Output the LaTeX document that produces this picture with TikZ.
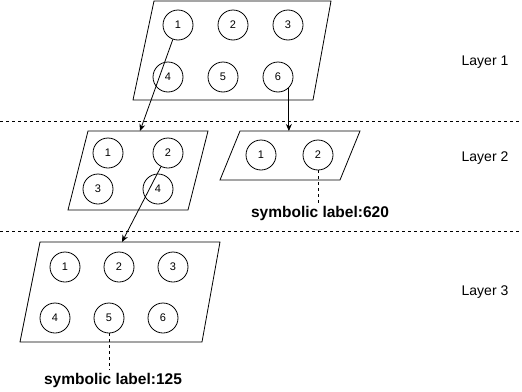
\documentclass[tikz,border=0pt]{standalone}
\usepackage{fontspec}
\setmainfont{Liberation Sans}
\usetikzlibrary{arrows.meta,positioning}

\begin{document}
\begin{tikzpicture}[x=1pt,y=-1pt,line width=0.8pt,>={Stealth[length=7pt,width=6pt]},
        node distance=55pt,on grid,
        nd/.style={circle,draw,minimum size=30pt,inner sep=0pt,font=\fontsize{11}{11}\selectfont},
        lyr/.style={font=\fontsize{14}{14}\selectfont},
        sym/.style={font=\fontsize{15.5}{15.5}\selectfont\bfseries,inner sep=2pt},
        sep/.style={dash pattern=on 3pt off 3pt}]
        \useasboundingbox (0,0) rectangle (522,391);

        % layers
        \draw[sep] (0,121) -- (522,121);
        \draw[sep] (0,231) -- (522,231);
        \node[lyr] (L1) at (485,62) {Layer 1};
        \node[lyr] (L2) at (485,158) {Layer 2};
        \node[lyr] (L3) at (485,292) {Layer 3};

        % layer 1
        \draw (154,1) -- (331,1) -- (313,100) -- (133,100) -- cycle;
        \node[nd] (a1) at (178,25) {1};
        \node[nd] (a2) [right=of a1] {2};
        \node[nd] (a3) [right=of a2] {3};
        \node[nd] (a4) at (168,77) {4};
        \node[nd] (a5) [right=of a4] {5};
        \node[nd] (a6) [right=of a5] {6};

        % layer 2
        \draw (88,131) -- (208,131) -- (188,210) -- (68,210) -- cycle;
        \node[nd] (b1) at (108,153) {1};
        \node[nd] (b2) [right=60pt of b1] {2};
        \node[nd] (b3) at (98,189) {3};
        \node[nd] (b4) [right=60pt of b3] {4};

        \draw (240,131) -- (360,131) -- (340,180) -- (220,180) -- cycle;
        \node[nd] (c1) at (261,155) {1};
        \node[nd] (c2) [right=57pt of c1] {2};
        \node[sym] (s620) at (320,213) {symbolic label:620};

        % layer 3
        \draw (40,242) -- (220,242) -- (202,342) -- (20,342) -- cycle;
        \node[nd] (d1) at (65,267) {1};
        \node[nd] (d2) [right=54pt of d1] {2};
        \node[nd] (d3) [right=54pt of d2] {3};
        \node[nd] (d4) at (55,318) {4};
        \node[nd] (d5) [right=54pt of d4] {5};
        \node[nd] (d6) [right=54pt of d5] {6};
        \node[sym] (s125) at (113,380) {symbolic label:125};

        \coordinate (inB) at (140,131);
        \coordinate (inC) at (288,131);
        \coordinate (inD) at (122,242);
        \draw[->] (a1) -- (inB);
        \draw[->] (a6.-45) -- (a6.-45 |- inC);
        \draw[->] (b2) -- (inD);
        \draw[sep] (c2.south) -- (c2.south |- s620.north);
        \draw[sep] (d5.south) -- (d5.south |- s125.north);
\end{tikzpicture}
\end{document}
